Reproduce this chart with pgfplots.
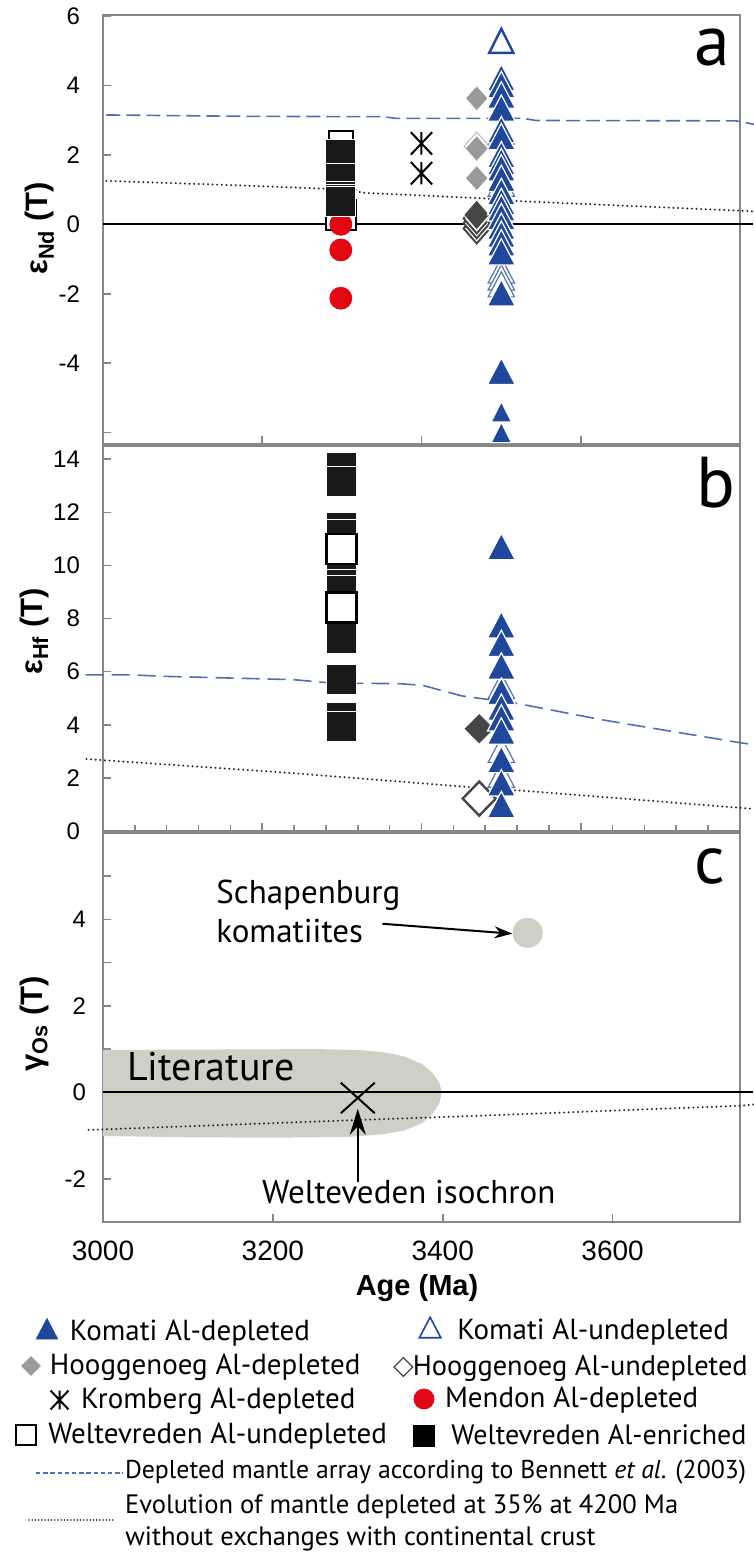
\documentclass[border=0pt]{standalone}
\usepackage{fontspec}
\setmainfont{Liberation Sans}
\newfontfamily\myriad{PT Sans}
\usepackage{pgfplots}
\pgfplotsset{compat=1.18}
\usetikzlibrary{arrows.meta}

\definecolor{kblue}{RGB}{31,71,155}
\definecolor{mred}{RGB}{227,6,19}
\definecolor{hgray}{RGB}{154,154,154}
\definecolor{hdark}{RGB}{70,70,70}
\definecolor{litgray}{RGB}{206,208,199}
\definecolor{axgray}{RGB}{135,135,135}
\definecolor{dmblue}{RGB}{80,110,180}

\pgfdeclareplotmark{kromb}{%
  \pgfpathmoveto{\pgfqpoint{0pt}{-\pgfplotmarksize}}%
  \pgfpathlineto{\pgfqpoint{0pt}{\pgfplotmarksize}}%
  \pgfpathmoveto{\pgfqpoint{-0.95\pgfplotmarksize}{-\pgfplotmarksize}}%
  \pgfpathlineto{\pgfqpoint{0.95\pgfplotmarksize}{\pgfplotmarksize}}%
  \pgfpathmoveto{\pgfqpoint{-0.95\pgfplotmarksize}{\pgfplotmarksize}}%
  \pgfpathlineto{\pgfqpoint{0.95\pgfplotmarksize}{-\pgfplotmarksize}}%
  \pgfusepathqstroke}

\tikzset{
  dmline/.style={dmblue, line width=0.8pt, dash pattern=on 7pt off 3pt},
  dmlineb/.style={dmblue, line width=0.8pt, dash pattern=on 9pt off 4pt},
  evline/.style={black!85, line width=1.1pt, line cap=round, dash pattern=on 0.01pt off 2.3pt},
}

\pgfplotsset{
  panel/.style={scale only axis, width=318.5pt, xmin=3000, xmax=3750, clip=false,
    axis line style={axgray, line width=1.2pt},
    tick style={axgray, line width=0.8pt}, tick align=inside, tick pos=left,
    major tick length=4pt, minor tick length=3pt,
    yticklabel style={font=\fontsize{12}{14}\selectfont, xshift=-8pt},
    xticklabel style={font=\fontsize{14}{16}\selectfont},
    every axis y label/.style={rotate=90, anchor=center, font=\bfseries\fontsize{15.5}{17}\selectfont},
  },
  komA/.style={only marks, mark=triangle*, mark size=8pt,
    mark options={yscale=1.1, fill=kblue, draw=white, line width=0.6pt}},
  komS/.style={only marks, mark=triangle*, mark size=5.8pt,
    mark options={yscale=1.15, fill=kblue, draw=white, line width=0.5pt}},
  komU/.style={only marks, mark=triangle*, mark size=7.6pt,
    mark options={yscale=1.1, fill=white, draw=kblue!75, line width=0.6pt}},
  komTop/.style={only marks, mark=triangle*, mark size=7.0pt,
    mark options={yscale=1.15, fill=white, draw=kblue, line width=1.2pt}},
  welF/.style={only marks, mark=square*, mark size=7.5pt,
    mark options={fill=black!90, draw=white, line width=0.5pt}},
  welU/.style={only marks, mark=square*, mark size=7.5pt,
    mark options={fill=white, draw=black, line width=1.2pt}},
  markleg/.style={legend image code/.code={\draw[##1] plot coordinates {(0pt,0pt)};}},
  dmleg/.style={legend image code/.code={\path[draw=none, fill=none] (0pt,0pt) -- (43.5pt,0pt); \draw[dmline, dash pattern=on 2.2pt off 1.4pt, line width=0.6pt, overlay] (0pt,-1.25pt) -- (43.5pt,-1.25pt);}},
  evleg/.style={legend image code/.code={\path[draw=none, fill=none] (0pt,0pt) -- (42pt,0pt); \draw[evline, line width=0.8pt, dash pattern=on 0.01pt off 1.6pt, overlay] (0pt,-7.25pt) -- (42pt,-7.25pt);}},
}

\newcommand{\legitem}[5][14.5]{%
\begin{axis}[hide axis, scale only axis, width=1pt, height=1pt, xmin=0, xmax=1, ymin=0, ymax=1,
  at={(#2,#3)}, anchor=south west, legend cell align=left,
  legend style={at={(axis description cs:0,0)}, anchor=west, draw=none, fill=none,
    inner sep=0pt, outer sep=0pt, font=\myriad\fontsize{#1}{17}\selectfont, nodes={inner sep=0pt}}]
\addlegendimage{#4}
\addlegendentry{#5}
\end{axis}}

\begin{document}
\begin{tikzpicture}[x=1pt,y=1pt]
\path[use as bounding box] (0,0) rectangle (377,776.5);

% ---------------- panel a ----------------
\begin{axis}[panel, at={(51.5pt,554.5pt)}, anchor=south west, height=214.5pt,
  ymin=-6.33, ymax=6.03, ytick={-6,-4,-2,0,2,4,6}, yticklabels={{},-4,-2,0,2,4,6},
  xtick={3187.5,3375,3562.5}, xticklabels={},
  ylabel={ε\textsubscript{Nd} (T)}, ylabel style={at={(axis description cs:-0.099,0.503)}}]
\addplot[black, line width=1pt] coordinates {(3000,0) (3765,0)};
\addplot[dmline] coordinates {(3004,3.15) (3170,3.11) (3330,3.10) (3345,3.05) (3495,3.05) (3510,2.99) (3745,2.98) (3767,2.88)};
\addplot[evline] coordinates {(3004,1.25) (3150,1.13) (3298,0.99) (3304,0.91) (3445,0.75) (3487,0.67) (3751,0.39) (3767,0.37)};
% Weltevreden Al-undepleted
\addplot[only marks, mark=square*, mark size=6pt, mark options={fill=white, draw=black, line width=1.2pt}] coordinates {(3280,2.34)};
\addplot[welU] coordinates {(3280,0.26)};
% Mendon
\addplot[only marks, mark=*, mark size=5.5pt, color=mred, mark options={fill=mred, draw=mred}] coordinates {(3280,0.0) (3280,-0.74) (3280,-2.13)};
% Weltevreden Al-enriched
\addplot[welF] coordinates {(3280,2.0) (3280,1.33) (3280,0.79) (3280,0.70) (3280,0.65)};
% Kromberg
\addplot[only marks, mark=kromb, mark size=5.6pt, mark options={line width=1pt, draw=black}] coordinates {(3375,2.33) (3375,1.47)};
% Hooggenoeg
\addplot[only marks, mark=diamond*, mark size=7pt, mark options={xscale=1.2, fill=white, draw=hgray!60, line width=0.6pt}] coordinates {(3440,2.25)};
\addplot[only marks, mark=diamond*, mark size=5.6pt, color=hgray, mark options={xscale=1.2, fill=hgray, draw=hgray}] coordinates {(3440,3.63) (3440,2.19) (3440,1.33)};
\addplot[only marks, mark=diamond*, mark size=7.5pt, mark options={xscale=1.16, fill=white, draw=hdark, line width=1pt}] coordinates {(3440,-0.12) (3440,0.03) (3440,0.17)};
\addplot[only marks, mark=diamond*, mark size=7.5pt, mark options={xscale=1.16, fill=hdark, draw=white, line width=0.4pt}] coordinates {(3440,0.27)};
% Komati
\addplot[komU] coordinates {(3469,2.55) (3469,1.05) (3469,-1.45) (3469,-1.65) (3469,-1.85)};
\addplot[komA] coordinates {(3469,4.1) (3469,3.9) (3469,3.6) (3469,3.22) (3469,2.6) (3469,2.4) (3469,1.88) (3469,1.68) (3469,1.5) (3469,1.2) (3469,0.82) (3469,0.53) (3469,0.35) (3469,0.1) (3469,-0.18) (3469,-0.41) (3469,-0.66) (3469,-0.92) (3469,-2.1) (3469,-4.36)};
\addplot[komS] coordinates {(3469,-5.5) (3469,-6.1)};
\addplot[komTop] coordinates {(3469,5.17)};
\node[font=\myriad\fontsize{36}{40}\selectfont, anchor=base east, inner sep=0pt] at (axis description cs:0.986,0.883) {a};
\end{axis}

% ---------------- panel b ----------------
\begin{axis}[panel, at={(51.5pt,361pt)}, anchor=south west, height=192.5pt,
  ymin=0, ymax=14.5, ytick={0,2,4,6,8,10,12,14}, yticklabels={0,2,4,6,8,10,12,14},
  xtick={3187.5,3375,3562.5}, xticklabels={},
  minor xtick={3037.5,3075,3112.5,3150,3225,3262.5,3300,3337.5,3412.5,3450,3487.5,3525,3600,3637.5,3675,3712.5},
  ylabel={ε\textsubscript{Hf} (T)}, ylabel style={at={(axis description cs:-0.108,0.519)}}]
\addplot[dmlineb] coordinates {(2979.5,5.88) (3031.6,5.88) (3077,5.82) (3150.5,5.76) (3224,5.7) (3269,5.57) (3349,5.55) (3377,5.48) (3422,5.09) (3490,4.79) (3587,4.19) (3751,3.32) (3767,3.25)};
\addplot[evline] coordinates {(2980.5,2.71) (3218.5,2.19) (3445,1.62) (3501.5,1.5) (3751,0.87) (3767,0.83)};
% Weltevreden Al-enriched
\addplot[welF] coordinates {(3281,13.68) (3281,13.18) (3281,11.42) (3281,11.15) (3281,10.4) (3281,9.27) (3281,9.05) (3281,7.26) (3281,5.7) (3281,4.26) (3281,3.94)};
% Weltevreden Al-undepleted
\addplot[welU] coordinates {(3281,10.61) (3281,8.42)};
% Hooggenoeg
\addplot[only marks, mark=diamond*, mark size=7pt, color=hdark, mark options={xscale=1.33, fill=hdark, draw=hdark}] coordinates {(3443,3.85)};
\addplot[only marks, mark=diamond*, mark size=8.5pt, mark options={xscale=1.3, fill=white, draw=hdark, line width=1.2pt}] coordinates {(3443,1.22)};
% Komati
\addplot[komU] coordinates {(3469,5.3) (3469,2.9) (3469,1.96)};
\addplot[komA] coordinates {(3469,10.55) (3469,7.6) (3469,6.9) (3469,6.05) (3469,5.1) (3469,4.5) (3469,4.1) (3469,3.6) (3469,2.53) (3469,1.65) (3469,0.83)};
\node[font=\myriad\fontsize{36}{40}\selectfont, anchor=base east, inner sep=0pt] at (axis description cs:0.994,0.839) {b};
\end{axis}

% ---------------- panel c ----------------
\begin{axis}[panel, at={(51.5pt,165.5pt)}, anchor=south west, height=194.5pt,
  ymin=-3, ymax=6, ytick={-2,0,2,4}, yticklabels={-2,0,2,4}, minor ytick={-1,1,3,5},
  yticklabel style={xshift=3pt}, minor tick length=4pt,
  xtick={3000,3200,3400,3600}, xticklabels={3000,3200,3400,3600},
  xticklabel style={yshift=-5.8pt},
  xlabel={Age (Ma)},
  every axis x label/.style={at={(axis description cs:0.493,-0.188)}, anchor=base, font=\bfseries\fontsize{14.5}{16}\selectfont},
  ylabel={γ\textsubscript{Os} (T)}, ylabel style={at={(axis description cs:-0.108,0.509)}}]
\addplot[fill=litgray, draw=none] coordinates {(3000,0.98) (3250,1.0) (3300,0.98) (3330,0.93) (3355,0.83) (3375,0.66) (3388,0.45) (3396,0.22) (3399,0) (3396,-0.25) (3388,-0.5) (3375,-0.72) (3355,-0.88) (3330,-0.97) (3290,-1.03) (3200,-1.05) (3100,-1.04) (3000,-1.01)} -- cycle;
\addplot[black, line width=1pt] coordinates {(3000,0) (3765,0)};
\addplot[evline] coordinates {(2983,-0.87) (3300.6,-0.64) (3445,-0.54) (3751,-0.31) (3767,-0.28)};
\addplot[only marks, mark=*, mark size=7.3pt, color=litgray, mark options={fill=litgray, draw=litgray}] coordinates {(3500,3.69)};
\addplot[only marks, mark=x, mark size=12pt, mark options={yscale=0.9, line width=1pt, draw=black}] coordinates {(3300,-0.13)};
\draw[line width=1pt, -{Stealth[length=9pt,width=6pt]}] (axis cs:3329,3.9) -- (axis cs:3482,3.67);
\draw[line width=1.1pt, -{Stealth[length=13pt,width=8pt]}] (axis cs:3300,-2.08) -- (axis cs:3300,-0.38);
\node[font=\myriad\fontsize{16.5}{18}\selectfont, anchor=base west, inner sep=0pt] at (axis cs:3133,4.38) {Schapenburg};
\node[font=\myriad\fontsize{16.5}{18}\selectfont, anchor=base west, inner sep=0pt] at (axis cs:3133,3.47) {komatiites};
\node[font=\myriad\fontsize{20}{22}\selectfont, anchor=base west, inner sep=0pt] at (axis cs:3028,0.27) {Literature};
\node[font=\myriad\fontsize{16.5}{18}\selectfont, anchor=base west, inner sep=0pt] at (axis cs:3187,-2.58) {Welteveden isochron};
\node[font=\myriad\fontsize{34}{38}\selectfont, anchor=base east, inner sep=0pt] at (axis description cs:0.978,0.871) {c};
\end{axis}

% ---------------- legend ----------------
\legitem{17.95pt}{111pt}{markleg, only marks, mark=triangle*, mark size=6.4pt, mark options={yscale=1.1, fill=kblue, draw=kblue, line width=0.1pt}}{\hspace{5.95pt}Komati Al-depleted}
\legitem{209.7pt}{111.5pt}{markleg, only marks, mark=triangle*, mark size=6.2pt, mark options={yscale=1.1, fill=white, draw=kblue, line width=0.8pt}}{\hspace{8.2pt}Komati Al-undepleted}
\legitem{10.8pt}{93.5pt}{markleg, only marks, mark=diamond*, mark size=4.7pt, mark options={xscale=1.33, fill=hgray, draw=hgray}}{\hspace{4.8pt}Hooggenoeg Al-depleted}
\legitem[14.2]{197pt}{93pt}{markleg, only marks, mark=diamond*, mark size=4.7pt, mark options={xscale=1.33, fill=white, draw=hdark, line width=0.6pt}}{Hooggenoeg Al-undepleted}
\legitem{25.3pt}{76.5pt}{markleg, only marks, mark=kromb, mark size=4.7pt, mark options={line width=1pt, draw=black}}{\hspace{6.3pt}Kromberg Al-depleted}
\legitem{207pt}{77pt}{markleg, only marks, mark=*, mark size=5pt, mark options={fill=mred, draw=mred}}{\hspace{5.5pt}Mendon Al-depleted}
\legitem{8.1pt}{59pt}{markleg, only marks, mark=square*, mark size=5pt, mark options={fill=white, draw=black, line width=0.8pt}}{\hspace{6.1pt}Weltevreden Al-undepleted}
\legitem[14]{206.8pt}{58.5pt}{markleg, only marks, mark=square*, mark size=5.2pt, mark options={fill=black, draw=black}}{\hspace{8.5pt}Weltevreden Al-enriched}
\legitem[12.9]{18pt}{41.25pt}{dmleg}{\hspace{1pt}Depleted mantle array according to Bennett \textit{et al}. (2003)}
\legitem[13.3]{14.5pt}{23.75pt}{evleg}{\hspace{6pt}Evolution of mantle depleted at 35\% at 4200 Ma}
\node[font=\myriad\fontsize{13.3}{16}\selectfont, anchor=base west, inner sep=0pt] at (62.5,3.8) {without exchanges with continental crust};
\end{tikzpicture}
\end{document}
